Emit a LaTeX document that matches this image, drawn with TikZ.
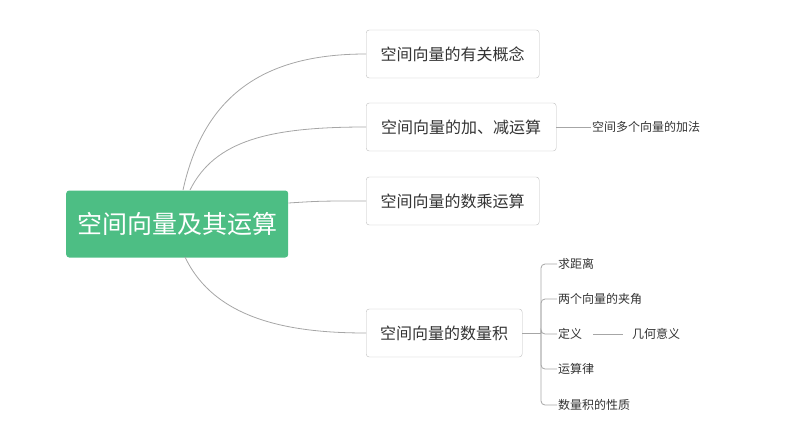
\documentclass[tikz,border=0pt]{standalone}
\usepackage{fontspec}
\setmainfont{Noto Sans CJK SC}
\begin{document}
\begin{tikzpicture}[x=1pt,y=-1pt,
  root/.style={fill=green!55!black!70!white, fill=rootc, rounded corners=3pt, text=white, font=\fontsize{25}{28}\selectfont, minimum height=67pt, anchor=west, inner xsep=11pt},
  child/.style={draw=gray!50, fill=white, rounded corners=3pt, font=\fontsize{16}{19}\selectfont, minimum height=48pt, anchor=west, inner xsep=9pt, text=black!80},
  leaf/.style={font=\fontsize{12}{14}\selectfont, anchor=west, inner sep=1pt, text=black!80},
  ln/.style={draw=gray!70, line width=0.8pt}]
\definecolor{rootc}{HTML}{4DBE84}
\useasboundingbox (0,0) rectangle (794,447);
\node[root, minimum width=222pt] (r) at (66,224) {空间向量及其运算};
\node[child, minimum width=173pt] (c1) at (366,54) {空间向量的有关概念};
\node[child, minimum width=190pt] (c2) at (366,127) {空间向量的加、减运算};
\node[child, minimum width=173pt] (c3) at (366,201) {空间向量的数乘运算};
\node[child, minimum width=156pt] (c4) at (366,333) {空间向量的数量积};
\coordinate (s1) at (183,190);
\coordinate (s2) at (190,190);
\coordinate (s4) at (185,257);
\draw[ln] (s1) .. controls (205,90) and (270,54) .. (c1.west);
\draw[ln] (s2) .. controls (215,140) and (270,127) .. (c2.west);
\draw[ln] (r.east |- 0,203) .. controls (320,201) .. (c3.west);
\draw[ln] (s4) .. controls (215,320) and (290,333) .. (c4.west);
\node[leaf] (l2) at (591,127) {空间多个向量的加法};
\draw[ln] (c2.east) -- (l2.west);
\coordinate (b) at (541,333);
\draw[ln] (c4.east) -- (b);
\node[leaf] (k1) at (557,264) {求距离};
\node[leaf] (k2) at (557,299) {两个向量的夹角};
\node[leaf] (k3) at (557,334) {定义};
\node[leaf] (k4) at (557,369) {运算律};
\node[leaf] (k5) at (557,405) {数量积的性质};
\node[leaf] (k6) at (631,334) {几何意义};
\foreach \k in {k1,k2,k3,k4,k5}
  \draw[ln, rounded corners=4pt] (b) |- (\k.west);
\draw[ln] ([xshift=10pt]k3.east) -- ([xshift=-8pt]k6.west);
\end{tikzpicture}
\end{document}
